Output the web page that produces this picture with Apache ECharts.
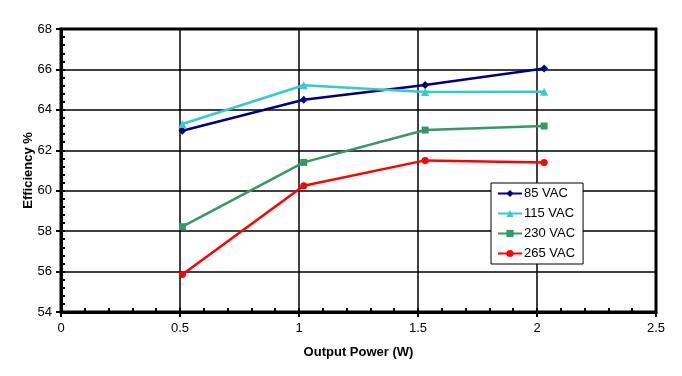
<!DOCTYPE html>
<html><head><meta charset="utf-8">
<script src="https://cdn.jsdelivr.net/npm/echarts@6/dist/echarts.min.js"></script>
<style>html,body{margin:0;padding:0;background:#fff}#c{width:682px;height:376px}</style>
</head><body><div id="c"></div>
<script>
const power85 = [0.51, 1.02, 1.53, 2.03];
const eff85 = [62.97, 64.5, 65.23, 66.05];
const power115 = [0.51, 1.02, 1.53, 2.03];
const eff115 = [63.3, 65.22, 64.88, 64.9];
const power230 = [0.51, 1.02, 1.53, 2.03];
const eff230 = [58.22, 61.4, 63.0, 63.2];
const power265 = [0.51, 1.02, 1.53, 2.03];
const eff265 = [55.85, 60.25, 61.5, 61.4];
const seriesNames = ['85 VAC', '115 VAC', '230 VAC', '265 VAC'];
const colors = ['#000080', '#33CCCC', '#339966', '#FF0000'];
const symbols = ['diamond', 'triangle', 'rect', 'circle'];
const symbolSizes = [8, 8, 7, 7];

const xs = [power85, power115, power230, power265];
const ys = [eff85, eff115, eff230, eff265];

const chart = echarts.init(document.getElementById('c'));
const font = 'Liberation Sans, Arial, sans-serif';
const outerTickAxis = (min, max, interval, pos) => ({
  type: 'value', min, max, interval, position: pos, offset: 0,
  axisLine: { show: false }, axisLabel: { show: false }, splitLine: { show: false },
  axisTick: { show: true, inside: false, length: 5, lineStyle: { color: '#000', width: 2 } }
});
chart.setOption({
  animation: false,
  backgroundColor: '#fff',
  grid: { left: 61, right: 26, top: 29, bottom: 64, show: true, borderColor: '#000', borderWidth: 3, backgroundColor: 'transparent' },
  xAxis: [{
    type: 'value', min: 0, max: 2.5, interval: 0.5, position: 'bottom',
    name: 'Output Power (W)', nameLocation: 'middle', nameGap: 34,
    nameTextStyle: { fontFamily: font, fontSize: 13, fontWeight: 'bold', color: '#000' },
    axisLine: { show: true, onZero: false, lineStyle: { color: '#000', width: 3 } },
    axisTick: { show: true, inside: true, length: 4, lineStyle: { color: '#000', width: 2 } },
    minorTick: { show: true, splitNumber: 5, length: 4, lineStyle: { color: '#000', width: 2 } },
    axisLabel: { fontFamily: font, fontSize: 13, color: '#000', margin: 10, formatter: v => String(v) },
    splitLine: { show: true, lineStyle: { color: '#000', width: 1.5 } }
  }, outerTickAxis(0, 2.5, 0.5, 'bottom')],
  yAxis: [{
    type: 'value', min: 54, max: 68, interval: 2, position: 'left',
    name: 'Efficiency %', nameLocation: 'middle', nameGap: 26, nameMoveOverlap: false,
    nameTextStyle: { fontFamily: font, fontSize: 13, fontWeight: 'bold', color: '#000' },
    axisLine: { show: true, onZero: false, lineStyle: { color: '#000', width: 3 } },
    axisTick: { show: true, inside: true, length: 4, lineStyle: { color: '#000', width: 2 } },
    minorTick: { show: true, splitNumber: 5, length: 4, lineStyle: { color: '#000', width: 2 } },
    axisLabel: { fontFamily: font, fontSize: 13, color: '#000', margin: 9 },
    splitLine: { show: true, lineStyle: { color: '#000', width: 1.5 } }
  }, outerTickAxis(54, 68, 2, 'left')],
  legend: {
    orient: 'vertical', left: 491, top: 183,
    data: seriesNames,
    backgroundColor: '#fff', borderColor: '#000', borderWidth: 1,
    padding: [4, 8, 4, 6], itemGap: 7, itemWidth: 24, itemHeight: 9,
    textStyle: { fontFamily: font, fontSize: 13, color: '#000', padding: [0, 0, 0, -3] }
  },
  series: seriesNames.map((n, i) => ({
    name: n, type: 'line',
    xAxisIndex: 0, yAxisIndex: 0,
    data: xs[i].map((x, j) => [x, ys[i][j]]),
    symbol: symbols[i], symbolSize: symbolSizes[i],
    showAllSymbol: true,
    itemStyle: { color: colors[i] },
    lineStyle: { color: colors[i], width: 2.5 }
  }))
});
</script></body></html>
